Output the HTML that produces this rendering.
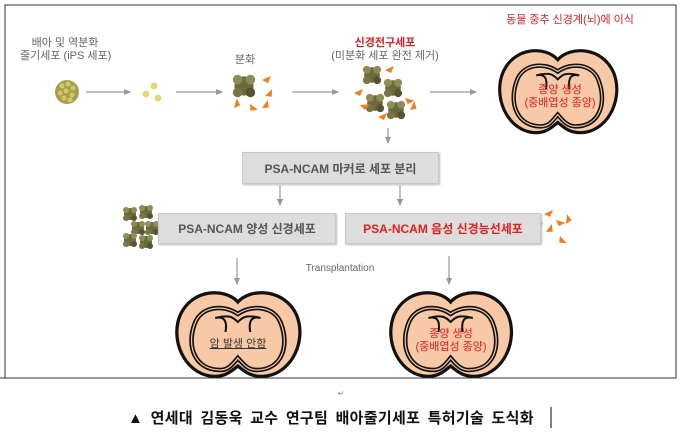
<!DOCTYPE html>
<html><head><meta charset="utf-8"><style>
body{margin:0;background:#fff;width:680px;height:436px;overflow:hidden;font-family:"Liberation Sans","Noto Sans CJK KR",sans-serif}
.t{position:absolute;white-space:nowrap;font-size:11px;color:#666;text-align:center}
.box{position:absolute;background:#ddd;border:1px solid #c8c8c8;box-shadow:1px 1px 2px #bbb;font-size:12px;font-weight:bold;color:#555;display:flex;align-items:center;justify-content:center}
</style></head><body>
<svg width="680" height="436" style="position:absolute;left:0;top:0">
<defs>
<marker id="a" markerWidth="6" markerHeight="6" refX="5" refY="3" orient="auto"><path d="M0,0.5 L6,3 L0,5.5z" fill="#999"/></marker>
<g id="brain">
<path d="M62,12 C50,-2 18,-2 6,25 C-4,50 10,82 35,86 C48,88 55,82 62,76 C69,82 76,88 90,86 C115,82 129,50 119,25 C107,-2 74,-2 62,12 Z" fill="#f7c9a6" stroke="#111" stroke-width="3.2"/>
<path d="M62,24 C48,14 26,16 20,34 C12,56 20,80 45,80 C53,80 57,74 62,68 C67,74 72,80 80,80 C105,80 112,56 104,34 C98,16 76,14 62,24 Z" fill="none" stroke="#111" stroke-width="4.5"/>
<path d="M62,24 C48,14 26,16 20,34 C12,56 20,80 45,80 C53,80 57,74 62,68 C67,74 72,80 80,80 C105,80 112,56 104,34 C98,16 76,14 62,24 Z" fill="none" stroke="#f7c9a6" stroke-width="1.2"/>
<path d="M40,28 C48,26 52,30 50,42 M84,28 C76,26 72,30 74,42 M40,28 C55,24 58,28 62,32 C66,28 69,24 84,28" fill="none" stroke="#111" stroke-width="2"/>
</g>
<g id="cl"><circle r="6" fill="#6b6a3a"/><circle cx="-4" cy="-4" r="3" fill="#8f8c55"/><circle cx="4" cy="-4" r="3" fill="#8f8c55"/><circle cx="4" cy="4" r="3" fill="#555430"/><circle cx="-4" cy="4" r="3" fill="#777548"/></g>
<path id="or" d="M0,0 L9,-4 L6,3 Z" fill="#f07f1a"/>
</defs>
<rect x="5" y="5" width="671" height="373" fill="none" stroke="#333" stroke-width="1"/>
<g stroke="#999" stroke-width="1.2" fill="none" marker-end="url(#a)">
<line x1="86" y1="92" x2="130" y2="92"/>
<line x1="176" y1="92" x2="222" y2="92"/>
<line x1="292" y1="92" x2="338" y2="92"/>
<line x1="430" y1="92" x2="476" y2="92"/>
<line x1="388" y1="128" x2="388" y2="143"/>
<line x1="280" y1="185" x2="280" y2="205"/>
<line x1="400" y1="185" x2="400" y2="205"/>
<line x1="237" y1="258" x2="237" y2="284"/>
<line x1="449" y1="256" x2="449" y2="284"/>
</g>
<circle cx="67" cy="92" r="12" fill="#a8a048"/>
<g fill="#cfc670"><circle cx="62" cy="86" r="2.5"/><circle cx="68" cy="84" r="2.5"/><circle cx="73" cy="88" r="2.5"/><circle cx="60" cy="93" r="2.5"/><circle cx="66" cy="91" r="2.5"/><circle cx="72" cy="95" r="2.5"/><circle cx="64" cy="98" r="2.5"/><circle cx="70" cy="100" r="2.5"/></g>
<g fill="#e8d870"><circle cx="154" cy="86" r="3.5"/><circle cx="146" cy="94" r="3.5"/><circle cx="158" cy="98" r="3.5"/></g>
<use href="#cl" transform="translate(244,86) scale(1.6)"/>
<use href="#or" transform="translate(262,80)"/><use href="#or" transform="translate(265,96) rotate(-20)"/><use href="#or" transform="translate(234,108) rotate(-50)"/><use href="#or" transform="translate(250,104) rotate(60)"/><use href="#or" transform="translate(262,108) rotate(-30)"/>
<use href="#cl" transform="translate(372,75) scale(1.3)"/><use href="#cl" transform="translate(393,88) scale(1.3)"/><use href="#cl" transform="translate(375,103) scale(1.3)"/><use href="#cl" transform="translate(396,110) scale(1.3)"/>
<use href="#or" transform="translate(385,70)"/><use href="#or" transform="translate(354,93)"/><use href="#or" transform="translate(405,98) rotate(40)"/><use href="#or" transform="translate(378,117)"/><use href="#or" transform="translate(410,110) rotate(-40)"/><use href="#or" transform="translate(360,105) rotate(20)"/>
<use href="#cl" transform="translate(130,214)"/><use href="#cl" transform="translate(146,212)"/><use href="#cl" transform="translate(138,228)"/><use href="#cl" transform="translate(152,228)"/><use href="#cl" transform="translate(130,240)"/><use href="#cl" transform="translate(146,242)"/>
<use href="#or" transform="translate(544,214)"/><use href="#or" transform="translate(556,220) rotate(40)"/><use href="#or" transform="translate(546,232) rotate(-30)"/><use href="#or" transform="translate(560,236) rotate(70)"/><use href="#or" transform="translate(534,226)"/><use href="#or" transform="translate(566,224) rotate(-60)"/>
<use href="#brain" transform="translate(497,48) scale(0.98,0.98)"/>
<use href="#brain" transform="translate(174,290) scale(1.03,1.0)"/>
<use href="#brain" transform="translate(388,290) scale(1.01,1.0)"/>
<rect x="0" y="379" width="680" height="57" fill="#fff"/>
<line x1="0" y1="378" x2="676" y2="378" stroke="#333"/>
<line x1="551" y1="407" x2="551" y2="428" stroke="#000"/>
</svg>
<div class="t" style="left:20px;top:37px;width:90px;line-height:13px">배아 및 역분화<br>줄기세포 (iPS 세포)</div>
<div class="t" style="left:230px;top:51px;width:30px">분화</div>
<div class="t" style="left:320px;top:37px;width:130px;line-height:13px"><b style="color:#e02020">신경전구세포</b><br>(미분화 세포 완전 제거)</div>
<div class="t" style="left:490px;top:11px;width:160px;color:#e02020">동물 중추 신경계(뇌)에 이식</div>
<div class="t" style="left:510px;top:84px;width:100px;color:#e02020;line-height:13px">종양 생성<br>(중배엽성 종양)</div>
<div class="t" style="left:396px;top:328px;width:110px;color:#e02020;line-height:13px">종양 생성<br>(중배엽성 종양)</div>
<div class="t" style="left:188px;top:335px;width:100px;color:#333;text-decoration:underline">암 발생 안함</div>
<div class="t" style="left:290px;top:263px;width:100px;font-size:10px">Transplantation</div>
<div class="box" style="left:242px;top:152px;width:195px;height:30px">PSA-NCAM 마커로 세포 분리</div>
<div class="box" style="left:158px;top:213px;width:176px;height:29px">PSA-NCAM 양성 신경세포</div>
<div class="box" style="left:345px;top:213px;width:194px;height:29px;color:#e02020">PSA-NCAM 음성 신경능선세포</div>
<div class="t" style="left:336px;top:389px;width:10px;font-size:8px;color:#888">↵</div>
<div class="t" style="left:128px;top:407px;font-size:15px;font-weight:bold;color:#111;letter-spacing:0.3px;word-spacing:3px">▲ 연세대 김동욱 교수 연구팀 배아줄기세포 특허기술 도식화</div>
</body></html>
